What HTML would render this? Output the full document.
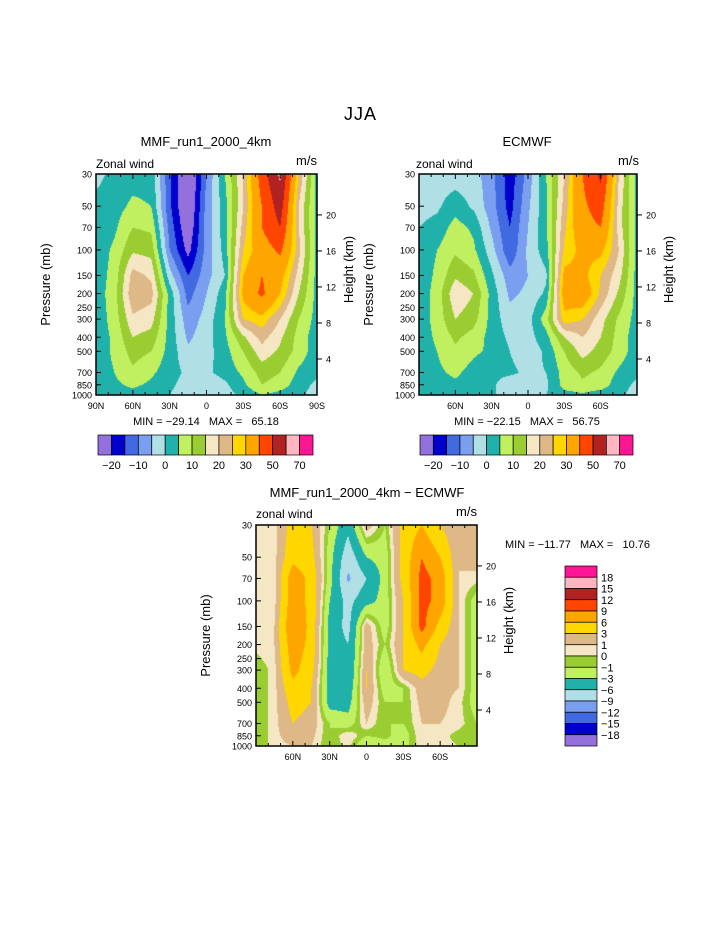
<!DOCTYPE html>
<html><head><meta charset="utf-8">
<style>
body{margin:0;background:#fff;width:723px;height:935px;position:relative;overflow:hidden;font-family:"Liberation Sans",sans-serif;color:#000}
.t{position:absolute;white-space:nowrap;line-height:1}
canvas{position:absolute}
svg{position:absolute;left:0;top:0}
svg text{white-space:pre}
</style></head><body>
<div class="t" style="left:344px;top:105px;font-size:18px;letter-spacing:1px">JJA</div>
<canvas id="c1" width="221" height="221" style="left:96px;top:174px"></canvas>
<canvas id="c2" width="218" height="221" style="left:419px;top:174px"></canvas>
<canvas id="c3" width="221" height="221" style="left:256px;top:525px"></canvas>
<svg id="ov" width="723" height="935"></svg>
<script>
const latitudes=[90,75,60,45,30,15,0,-15,-30,-45,-60,-75,-90];
const pressures=[30,50,70,100,150,200,300,400,500,700,850,1000];
const mmfValues=[
[-2,2,3,3,-14,-28,-10,5,20,45,62,25,3],
[2,3,6,5,-14,-27,-8,3,20,40,55,20,3],
[2,4,10,9,-12,-25,-8,3,22,40,50,20,3],
[2,6,14,13,-10,-22,-8,2,25,35,42,22,3],
[2,7,22,19,-3,-15,-7,0,30,40,33,18,3],
[2,8,24,22,3,-12,-5,3,32,42,30,15,3],
[2,7,19,17,3,-8,-3,5,25,28,20,10,3],
[2,6,15,13,3,-6,-2,4,14,22,16,8,2],
[2,6,12,10,3,-4,-2,3,10,18,14,8,2],
[2,5,9,6,2,-1,-1,2,6,12,10,4,1],
[2,4,6,4,1,-2,-4,-1,4,10,8,2,-1],
[2,3,3,2,0,-3,-4,-2,1,5,3,1,-2]];
const ecmwfValues=[
[-2,-2,-3,-3,-8,-18,-8,5,20,40,52,20,3],
[-2,-1,3,-1,-8,-17,-6,4,22,38,45,18,3],
[0,2,7,4,-6,-15,-5,4,24,36,40,18,3],
[2,5,9,6,-3,-14,-4,3,26,32,32,20,3],
[2,6,14,11,1,-8,-5,-1,32,32,25,17,3],
[2,7,19,15,3,-6,-4,1,34,36,24,14,3],
[2,7,15,12,3,-3,-2,8,28,25,17,9,3],
[2,6,11,8,3,-1,-2,3,15,20,15,8,2],
[2,5,9,6,4,0,-3,1,10,17,13,8,2],
[2,4,6,3,1,1,-1,0,7,11,9,4,1],
[2,3,4,2,1,-3,-3,-1,7,9,8,2,-1],
[2,2,2,1,1,-3,-2,0,3,4,2,1,-2]];
const diffValues=[
[0.5,0.5,4,3,-1,-5,2,-1,4,6,3,1,3],
[0.5,0.5,5,4,-2,-8,-3,-2,4,9,6,1,2],
[0.5,0.5,8,5,-2,-9.5,-6,-2,4,10,8,1,0.5],
[0.5,0.5,8,5,-3,-7,-4,-2,3,10,8,1,-2],
[0.5,1,9,5,-4,-7,2,-2,3,10,5,1,-2],
[0.5,1,8,5,-4,-6,2,-1,3,7,3,1,-2],
[-1,0.5,7,4,-4,-6,3,-3,3,4,2,1,-2],
[-1,0.5,5,3,-4,-5,3,-2,-1,2,1.5,1,-2],
[-1,0.5,4,3,-4,-4,2,-1,-1,1.5,1.5,0.5,-2],
[-1,0.5,3,2,-1,-2,1,-1,-1,1,1,0.5,-1],
[-1,0.5,2,1.5,-1,1,-1,-0.5,-2,1,0.5,-0.5,-1],
[-1,0.5,1,1,-1,0.5,-3,-2,-2,1,0.5,0,0]];
const fullLevels=[-20,-15,-10,-5,0,5,10,15,20,25,30,40,50,60,70];
const diffLevels=[-18,-15,-12,-9,-6,-3,-1,0,1,3,6,9,12,15,18];
const fullLabels=["-20","-10","0","10","20","30","50","70"];
const diffLabels=["-18","-15","-12","-9","-6","-3","-1","0","1","3","6","9","12","15","18"];
const pressTicks=[30,50,70,100,150,200,250,300,400,500,700,850,1000];
const heightTicks=[4,8,12,16,20];
const latTicks1=[90,60,30,0,-30,-60,-90];
const latTicks2=[60,30,0,-30,-60];
const stats1=["-29.14","65.18"],stats2=["-22.15","56.75"],stats3=["-11.77","10.76"];
const colors=["#9370db","#0000cd","#4169e1","#7a9ef0","#b0e0e6","#20b2aa","#c0f060","#9acd32","#f5e6c4","#deb887","#ffd700","#ffa500","#ff4500","#b22222","#ffb6c1","#ff1493"];

const ov=document.getElementById('ov');
const NS='http://www.w3.org/2000/svg';
function el(tag,attrs,txt){const e=document.createElementNS(NS,tag);for(const k in attrs)e.setAttribute(k,attrs[k]);if(txt!==undefined)e.textContent=txt;ov.appendChild(e);return e;}
function bin(v,lv){let i=0;while(i<lv.length&&v>=lv[i])i++;return i;}
function lp(p){return Math.log(p);}
function draw(id,vals,lv,X0,Y0,W,H,ticks,stats,name){
  const x=lat=>X0+(90-lat)/180*W;
  const y=p=>Y0+(lp(p)-lp(30))/(lp(1000)-lp(30))*H;
  const cv=document.getElementById(id),ctx=cv.getContext('2d');
  const img=ctx.createImageData(cv.width,cv.height);
  const rgb=colors.map(c=>[1,3,5].map(i=>parseInt(c.substr(i,2),16)));
  const lps=pressures.map(lp);
  for(let j=0;j<cv.height;j++){
    const L=lp(30)+(j+0.5)/H*(lp(1000)-lp(30));
    let r=0;while(r<lps.length-2&&L>lps[r+1])r++;
    const fy=Math.min(1,Math.max(0,(L-lps[r])/(lps[r+1]-lps[r])));
    for(let i=0;i<cv.width;i++){
      const g=(i+0.5)/W*12;let c=Math.min(11,Math.floor(g));const fx=g-c;
      const v=(vals[r][c]*(1-fx)+vals[r][c+1]*fx)*(1-fy)+(vals[r+1][c]*(1-fx)+vals[r+1][c+1]*fx)*fy;
      const col=rgb[bin(v,lv)];const k=(j*cv.width+i)*4;
      img.data[k]=col[0];img.data[k+1]=col[1];img.data[k+2]=col[2];img.data[k+3]=255;
    }
  }
  ctx.putImageData(img,0,0);
  el('rect',{x:X0,y:Y0,width:W,height:H,fill:'none',stroke:'#000','stroke-width':1.5,});
  pressTicks.forEach(p=>{const yy=y(p);
    el('line',{x1:X0,y1:yy,x2:X0+5,y2:yy,stroke:'#000'});
    el('text',{x:X0-4,y:yy+3.5,'text-anchor':'end','font-size':9,},String(p));});
  heightTicks.forEach(z=>{const p=1000*Math.exp(-z/7);const yy=y(p);
    el('line',{x1:X0+W,y1:yy,x2:X0+W+5,y2:yy,stroke:'#000'});
    el('text',{x:X0+W+9,y:yy+3.5,'font-size':9,},String(z));});
  for(let l=-80;l<=80;l+=10){const xx=x(l);
    el('line',{x1:xx,y1:Y0+H,x2:xx,y2:Y0+H-(l%30==0?5:3),stroke:'#000'});
    el('line',{x1:xx,y1:Y0,x2:xx,y2:Y0+(l%30==0?5:3),stroke:'#000'});}
  ticks.forEach(l=>{const lab=l==0?'0':Math.abs(l)+(l>0?'N':'S');
    el('text',{x:x(l),y:Y0+H+14,'text-anchor':'middle','font-size':9,},lab);});
  el('text',{x:X0-46,y:Y0+H/2,'text-anchor':'middle','font-size':13,transform:`rotate(-90 ${X0-46} ${Y0+H/2})`,},'Pressure (mb)');
  el('text',{x:X0+W+36,y:Y0+H/2-15,'text-anchor':'middle','font-size':13,transform:`rotate(-90 ${X0+W+36} ${Y0+H/2-15})`,},'Height (km)');
}
function hbar(X0,Y0,W,H,name){
  const bw=W/16;
  colors.forEach((c,i)=>{el('rect',{x:X0+i*bw,y:Y0,width:bw,height:H,fill:c,stroke:'#000','stroke-width':0.7,});});
  fullLabels.forEach((t,k)=>{const i=1+2*k;el('text',{x:X0+i*bw,y:Y0+H+14,'text-anchor':'middle','font-size':11,},t.replace('-','\u2212'));});
}
draw('c1',mmfValues,fullLevels,96,174,221,221,latTicks1,stats1,'mmf');
draw('c2',ecmwfValues,fullLevels,419,174,218,221,latTicks2,stats2,'ecmwf');
draw('c3',diffValues,diffLevels,256,525,221,221,latTicks2,stats3,'diff');
hbar(98,435,215,20,'mmf-colorbar');
hbar(420,435,213,20,'ecmwf-colorbar');
const vb=180/16;
colors.slice().reverse().forEach((c,i)=>{el('rect',{x:565,y:566+i*vb,width:32,height:vb,fill:c,stroke:'#000','stroke-width':0.7,});});
diffLabels.slice().reverse().forEach((t,i)=>{el('text',{x:601,y:566+(i+1)*vb+4,'font-size':11,},t.replace('-','\u2212'));});
function txt(x,y,s,t,anchor,name){el('text',{x:x,y:y,'font-size':s,'text-anchor':anchor||'start',},t);}
txt(206,146,13,'MMF_run1_2000_4km','middle','mmf-title');
txt(527,146,13,'ECMWF','middle','ecmwf-title');
txt(367,497,13,'MMF_run1_2000_4km \u2212 ECMWF','middle','diff-title');
txt(96,168,12,'Zonal wind','start','mmf-variable-label');
txt(317,165,13,'m/s','end','mmf-units');
txt(416,168,12,'zonal wind','start','ecmwf-variable-label');
txt(639,165,13,'m/s','end','ecmwf-units');
txt(256,518,12,'zonal wind','start','diff-variable-label');
txt(477,516,13,'m/s','end','diff-units');
txt(206,425,11,'MIN = \u2212'+stats1[0].slice(1)+'   MAX =   '+stats1[1],'middle','mmf-stats');
txt(527,425,11,'MIN = \u2212'+stats2[0].slice(1)+'   MAX =   '+stats2[1],'middle','ecmwf-stats');
txt(505,548,11,'MIN = \u2212'+stats3[0].slice(1)+'   MAX =   '+stats3[1],'start','diff-stats');
</script>
</body></html>
